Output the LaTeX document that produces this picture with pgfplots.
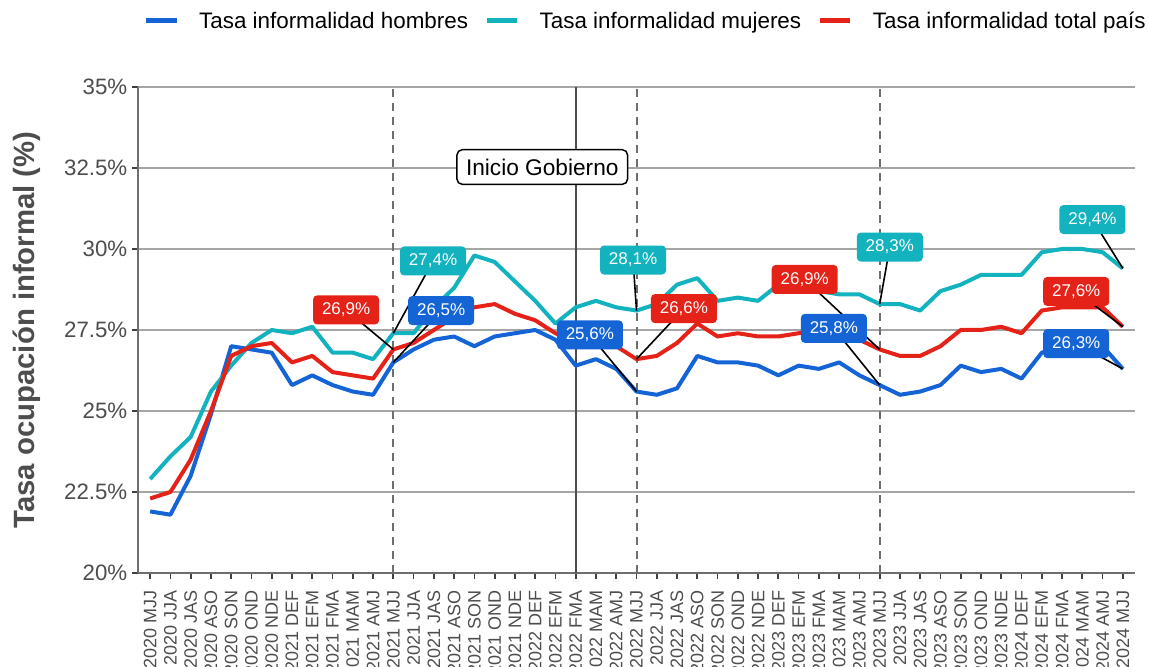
\documentclass[border=0pt]{standalone}
\usepackage{fontspec}
\setmainfont{Liberation Sans}
\usepackage{pgfplots}
\usepackage{pgfplotstable}
\pgfplotsset{compat=1.18}
\definecolor{cH}{RGB}{20,100,214}
\definecolor{cM}{RGB}{18,178,190}
\definecolor{cT}{RGB}{228,34,24}
\definecolor{txtgrey}{RGB}{77,77,77}
\definecolor{gridgrey}{RGB}{165,165,165}
\definecolor{axgrey}{RGB}{110,110,110}

% trimestres moviles: h = hombres, m = mujeres, t = total pais
\pgfplotstableread{
x h m t
0 21.9 22.9 22.3
1 21.8 23.6 22.5
2 23.0 24.2 23.5
3 24.9 25.6 25.0
4 27.0 26.4 26.7
5 26.9 27.1 27.0
6 26.8 27.5 27.1
7 25.8 27.4 26.5
8 26.1 27.6 26.7
9 25.8 26.8 26.2
10 25.6 26.8 26.1
11 25.5 26.6 26.0
12 26.5 27.4 26.9
13 26.9 27.4 27.1
14 27.2 28.2 27.5
15 27.3 28.8 27.9
16 27.0 29.8 28.2
17 27.3 29.6 28.3
18 27.4 29.0 28.0
19 27.5 28.4 27.8
20 27.2 27.7 27.4
21 26.4 28.2 27.1
22 26.6 28.4 27.1
23 26.3 28.2 27.0
24 25.6 28.1 26.6
25 25.5 28.3 26.7
26 25.7 28.9 27.1
27 26.7 29.1 27.7
28 26.5 28.4 27.3
29 26.5 28.5 27.4
30 26.4 28.4 27.3
31 26.1 28.9 27.3
32 26.4 28.9 27.4
33 26.3 28.7 27.5
34 26.5 28.6 27.5
35 26.1 28.6 27.2
36 25.8 28.3 26.9
37 25.5 28.3 26.7
38 25.6 28.1 26.7
39 25.8 28.7 27.0
40 26.4 28.9 27.5
41 26.2 29.2 27.5
42 26.3 29.2 27.6
43 26.0 29.2 27.4
44 26.8 29.9 28.1
45 27.0 30.0 28.2
46 27.0 30.0 28.2
47 27.0 29.9 28.2
48 26.3 29.4 27.6
}\informal

\begin{document}
\begin{tikzpicture}[
  lab/.style={rounded corners=3pt, text=white, font=\fontsize{12.75}{14}\selectfont,
    minimum width=49.5pt, minimum height=21.75pt, inner sep=0pt},
  con/.style={black, line width=1.2pt}]
\begin{axis}[
  scale only axis, width=747.75pt, height=364.5pt,
  xmin=-0.6, xmax=48.6, ymin=20, ymax=35,
  axis x line=bottom, axis y line=left,
  axis line style={-, axgrey, line width=1.5pt},
  ymajorgrids, grid style={gridgrey, line width=1.4pt},
  tick align=outside, major tick length=4.5pt,
  tick style={black!75, line width=1.3pt},
  ytick={20,22.5,25,27.5,30,32.5,35},
  yticklabels={20\%,22.5\%,25\%,27.5\%,30\%,32.5\%,35\%},
  yticklabel style={font=\fontsize{16.7}{19}\selectfont, text=txtgrey},
  xtick={0,...,48},
  xticklabels={2020 MJJ,2020 JJA,2020 JAS,2020 ASO,2020 SON,2020 OND,2020 NDE,
    2021 DEF,2021 EFM,2021 FMA,2021 MAM,2021 AMJ,2021 MJJ,2021 JJA,2021 JAS,2021 ASO,2021 SON,2021 OND,2021 NDE,
    2022 DEF,2022 EFM,2022 FMA,2022 MAM,2022 AMJ,2022 MJJ,2022 JJA,2022 JAS,2022 ASO,2022 SON,2022 OND,2022 NDE,
    2023 DEF,2023 EFM,2023 FMA,2023 MAM,2023 AMJ,2023 MJJ,2023 JJA,2023 JAS,2023 ASO,2023 SON,2023 OND,2023 NDE,
    2024 DEF,2024 EFM,2024 FMA,2024 MAM,2024 AMJ,2024 MJJ},
  xticklabel style={rotate=90, anchor=east, font=\fontsize{13.5}{15}\selectfont, text=txtgrey},
  xticklabel shift=5pt,
  ylabel={Tasa ocupación informal (\%)},
  every axis y label/.style={at={(axis description cs:-0.1113,0.5)}, rotate=90, anchor=center,
    font=\bfseries\fontsize{22}{26}\selectfont, text=txtgrey},
  legend columns=-1,
  legend style={draw=none, fill=none, inner sep=0pt, at={(0.5,1)}, anchor=center,
    xshift=6pt, yshift=49.5pt, nodes={inner sep=0pt},
    font=\fontsize{16.8}{19}\selectfont,
    /tikz/every odd column/.append style={column sep=15pt},
    /tikz/every even column/.append style={column sep=12pt}},
  legend image code/.code={\draw[#1, line width=3.75pt] (0pt,0pt) -- (23pt,0pt);},
]
\draw[axgrey, line width=1.5pt, dash pattern=on 6pt off 4.5pt] (axis cs:12,20) -- (axis cs:12,35);
\draw[axgrey, line width=1.5pt, dash pattern=on 6pt off 4.5pt] (axis cs:24,20) -- (axis cs:24,35);
\draw[axgrey, line width=1.5pt, dash pattern=on 6pt off 4.5pt] (axis cs:36,20) -- (axis cs:36,35);
\draw[black!70, line width=1.5pt] (axis cs:21,20) -- (axis cs:21,35);

\addplot[cH, line width=3pt, line join=round] table[x=x, y=h] {\informal};
\addlegendentry{Tasa informalidad hombres}
\addplot[cM, line width=3pt, line join=round] table[x=x, y=m] {\informal};
\addlegendentry{Tasa informalidad mujeres}
\addplot[cT, line width=3pt, line join=round] table[x=x, y=t] {\informal};
\addlegendentry{Tasa informalidad total país}

\node[draw=black, fill=white, line width=1.1pt, rounded corners=4pt, minimum width=128pt,
  minimum height=26pt, font=\fontsize{17}{20}\selectfont] at (axis cs:19.35,32.53) {Inicio Gobierno};

\draw[con] (axis cs:9.67,28.12) -- (axis cs:12,26.9);
\draw[con] (axis cs:13.96,29.63) -- (axis cs:12,27.4);
\draw[con] (axis cs:14.36,28.10) -- (axis cs:12,26.5);
\draw[con] (axis cs:21.7,27.35) -- (axis cs:24,25.6);
\draw[con] (axis cs:23.83,29.66) -- (axis cs:24,28.1);
\draw[con] (axis cs:26.34,28.16) -- (axis cs:24,26.6);
\draw[con] (axis cs:32.3,29.06) -- (axis cs:36,26.9);
\draw[con] (axis cs:33.74,27.55) -- (axis cs:36,25.8);
\draw[con] (axis cs:36.5,30.06) -- (axis cs:36,28.3);
\draw[con] (axis cs:46.5,30.91) -- (axis cs:48,29.4);
\draw[con] (axis cs:45.7,28.69) -- (axis cs:48,27.6);
\draw[con] (axis cs:45.7,27.08) -- (axis cs:48,26.3);

\node[lab, fill=cT] at (axis cs:9.67,28.12) {26,9\%};
\node[lab, fill=cM] at (axis cs:13.96,29.63) {27,4\%};
\node[lab, fill=cH] at (axis cs:14.36,28.10) {26,5\%};
\node[lab, fill=cH] at (axis cs:21.7,27.35) {25,6\%};
\node[lab, fill=cM] at (axis cs:23.83,29.66) {28,1\%};
\node[lab, fill=cT] at (axis cs:26.34,28.16) {26,6\%};
\node[lab, fill=cT] at (axis cs:32.3,29.06) {26,9\%};
\node[lab, fill=cH] at (axis cs:33.74,27.55) {25,8\%};
\node[lab, fill=cM] at (axis cs:36.5,30.06) {28,3\%};
\node[lab, fill=cM] at (axis cs:46.5,30.91) {29,4\%};
\node[lab, fill=cT] at (axis cs:45.7,28.69) {27,6\%};
\node[lab, fill=cH] at (axis cs:45.7,27.08) {26,3\%};
\end{axis}
\pgfresetboundingbox
\path[use as bounding box] (-103.5pt,-70.5pt) rectangle (758.25pt,429.75pt);
\end{tikzpicture}
\end{document}
